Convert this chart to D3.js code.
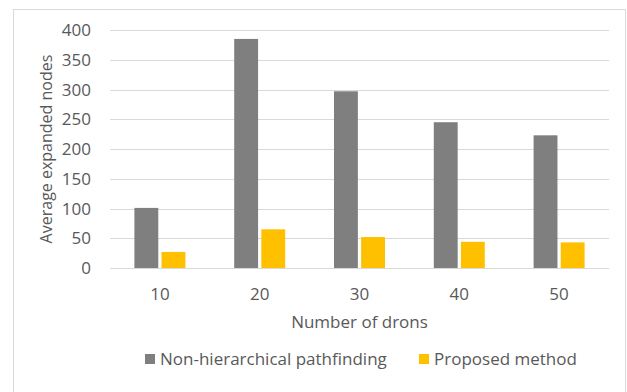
<!DOCTYPE html>
<html>
<head>
<meta charset="utf-8">
<script src="https://cdn.jsdelivr.net/npm/d3@7"></script>
<style>
  body { margin: 0; background: #fff; }
  text { font-family: 'Open Sans', sans-serif; fill: #595959; }
</style>
</head>
<body>
<div id="chart"></div>
<script>
var drones = ['10', '20', '30', '40', '50'];
var seriesNames = ['Non-hierarchical pathfinding', 'Proposed method'];
var nonHierarchical = [101, 385, 297, 245, 223];
var proposed = [27, 65, 52, 44, 43];
var yTicks = [0, 50, 100, 150, 200, 250, 300, 350, 400];

var width = 627, height = 392;
var margin = { top: 30, right: 18, bottom: 124, left: 110 };
var colors = ['#7f7f7f', '#ffc000'];

var svg = d3.select('#chart').append('svg')
  .attr('width', width)
  .attr('height', height);

// outer chart frame
svg.append('rect')
  .attr('x', 13.5).attr('y', 9.5)
  .attr('width', 612).attr('height', 400)
  .attr('fill', 'none')
  .attr('stroke', '#d9d9d9');

var x0 = d3.scaleBand()
  .domain(drones)
  .range([margin.left, width - margin.right])
  .paddingInner(0)
  .paddingOuter(0);

var x1 = d3.scaleBand()
  .domain([0, 1])
  .range([0, 51])
  .paddingInner(0.12);

var y = d3.scaleLinear()
  .domain([0, 400])
  .range([height - margin.bottom, margin.top]);

// gridlines
svg.selectAll('line.grid')
    .data(yTicks)
  .enter().append('line')
    .attr('class', 'grid')
    .attr('x1', margin.left)
    .attr('x2', width - margin.right)
    .attr('y1', function(d) { return Math.round(y(d)) + 0.5; })
    .attr('y2', function(d) { return Math.round(y(d)) + 0.5; })
    .attr('stroke', '#d9d9d9')
    .attr('stroke-width', 1);

// y tick labels
svg.selectAll('text.ytick')
    .data(yTicks)
  .enter().append('text')
    .attr('class', 'ytick')
    .attr('x', margin.left - 19)
    .attr('y', function(d) { return y(d) + 6; })
    .attr('text-anchor', 'end')
    .attr('font-size', '17px')
    .text(function(d) { return d; });

var groups = svg.selectAll('g.group')
    .data(drones)
  .enter().append('g')
    .attr('class', 'group')
    .attr('transform', function(d) { return 'translate(' + (x0(d) + x0.bandwidth() / 2 - 25.5) + ',0)'; });

groups.selectAll('rect')
    .data(function(d, i) { return [nonHierarchical[i], proposed[i]]; })
  .enter().append('rect')
    .attr('x', function(d, j) { return x1(j); })
    .attr('y', function(d) { return y(d); })
    .attr('width', x1.bandwidth())
    .attr('height', function(d) { return y(0) - y(d); })
    .attr('fill', function(d, j) { return colors[j]; });

// x tick labels
svg.selectAll('text.xtick')
    .data(drones)
  .enter().append('text')
    .attr('class', 'xtick')
    .attr('x', function(d) { return x0(d) + x0.bandwidth() / 2; })
    .attr('y', height - margin.bottom + 32)
    .attr('text-anchor', 'middle')
    .attr('font-size', '17px')
    .text(function(d) { return d; });

// axis titles
svg.append('text')
  .attr('x', (margin.left + width - margin.right) / 2)
  .attr('y', 328)
  .attr('text-anchor', 'middle')
  .attr('font-size', '17px')
  .text('Number of drons');

svg.append('text')
  .attr('transform', 'translate(52,' + ((margin.top + height - margin.bottom) / 2) + ') rotate(-90)')
  .attr('text-anchor', 'middle')
  .attr('font-size', '16px')
  .text('Average expanded nodes');

// legend
var legendX = [145, 419];
var legend = svg.selectAll('g.legend')
    .data(seriesNames)
  .enter().append('g')
    .attr('class', 'legend')
    .attr('transform', function(d, i) { return 'translate(' + legendX[i] + ',360)'; });

legend.append('rect')
  .attr('x', 0).attr('y', -6)
  .attr('width', 10).attr('height', 10)
  .attr('fill', function(d, i) { return colors[i]; });

legend.append('text')
  .attr('x', 15)
  .attr('y', 5)
  .attr('font-size', '17px')
  .text(function(d) { return d; });
</script>
</body>
</html>
